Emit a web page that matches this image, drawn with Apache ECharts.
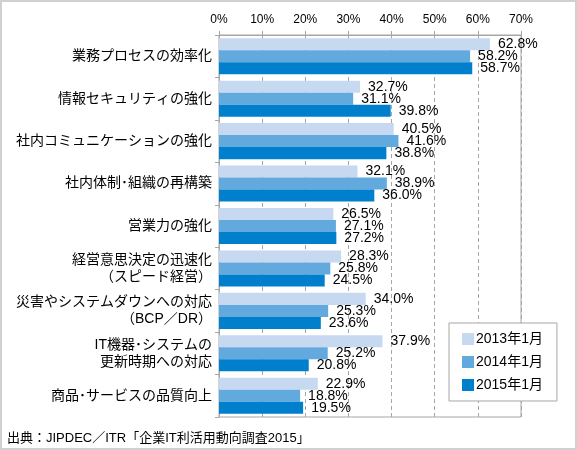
<!DOCTYPE html>
<html>
<head>
<meta charset="utf-8">
<script src="https://cdn.jsdelivr.net/npm/echarts@6/dist/echarts.min.js"></script>
<style>
html,body{margin:0;padding:0;background:#fff;}
#frame{position:absolute;left:0;top:0;width:573px;height:446px;border:2px solid #d0d0d0;background:#fff;}
#chart{position:absolute;left:-2px;top:-2px;width:577px;height:450px;}
</style>
</head>
<body>
<div id="frame"><div id="chart"></div></div>
<script>
const categories = [
  '業務プロセスの効率化',
  '情報セキュリティの強化',
  '社内コミュニケーションの強化',
  '社内体制･組織の再構築',
  '営業力の強化',
  '経営意思決定の迅速化\n（スピード経営）',
  '災害やシステムダウンへの対応\n（BCP／DR）',
  'IT機器･システムの\n更新時期への対応',
  '商品･サービスの品質向上'
];
const seriesNames = ['2013年1月', '2014年1月', '2015年1月'];
const values2013 = [62.8, 32.7, 40.5, 32.1, 26.5, 28.3, 34.0, 37.9, 22.9];
const values2014 = [58.2, 31.1, 41.6, 38.9, 27.1, 25.8, 25.3, 25.2, 18.8];
const values2015 = [58.7, 39.8, 38.8, 36.0, 27.2, 24.5, 23.6, 20.8, 19.5];
const xTicks = [0, 10, 20, 30, 40, 50, 60, 70];
const sourceText = '出典：JIPDEC／ITR「企業IT利活用動向調査2015」';

const colors = ['#c6d9f0', '#62a9dd', '#0080cc'];
const FONT = '"Liberation Sans", "Noto Sans CJK JP", sans-serif';
const allValues = [values2013, values2014, values2015];

const chart = echarts.init(document.getElementById('chart'), null, {renderer: 'canvas'});
chart.setOption({
  animation: false,
  backgroundColor: 'transparent',
  textStyle: {fontFamily: FONT, color: '#000'},
  grid: {left: 219, right: 56, top: 35, bottom: 33, show: true, borderColor: '#a6a6a6', borderWidth: 1, containLabel: false},
  xAxis: {
    type: 'value', position: 'top',
    min: xTicks[0], max: xTicks[xTicks.length - 1], interval: 10,
    axisLine: {show: true, lineStyle: {color: '#a6a6a6'}},
    axisTick: {show: true, length: 4, lineStyle: {color: '#a6a6a6'}},
    axisLabel: {formatter: '{value}%', fontSize: 12, color: '#000', margin: 9, fontFamily: FONT},
    splitLine: {show: true, lineStyle: {color: '#a6a6a6', type: [4, 3]}}
  },
  yAxis: {
    type: 'category', inverse: true, data: categories,
    axisLine: {show: true, lineStyle: {color: '#a6a6a6'}},
    axisTick: {show: true, length: 4, lineStyle: {color: '#a6a6a6'}},
    axisLabel: {fontSize: 14, color: '#000', margin: 7, lineHeight: 17, align: 'right', fontFamily: FONT}
  },
  legend: {
    orient: 'vertical', left: 449, top: 323,
    data: seriesNames,
    icon: 'rect', itemWidth: 12, itemHeight: 12, itemGap: 9,
    padding: [9, 14, 9, 13],
    borderColor: '#a6a6a6', borderWidth: 1, backgroundColor: '#fff',
    textStyle: {fontSize: 14, color: '#000', fontFamily: FONT, padding: [0, 0, 0, -3]}
  },
  series: seriesNames.map((name, i) => ({
    name: name, type: 'bar', data: allValues[i],
    barGap: '0%', barCategoryGap: '15%',
    itemStyle: {color: colors[i]},
    label: {show: true, position: 'right', distance: 8, fontSize: 14, color: '#000', fontFamily: FONT,
      formatter: p => p.value.toFixed(1) + '%'}
  })),
  graphic: [{
    type: 'text', left: 7, top: 432,
    style: {text: sourceText, fontSize: 13, fill: '#000', fontFamily: FONT}
  }]
});
</script>
</body>
</html>
